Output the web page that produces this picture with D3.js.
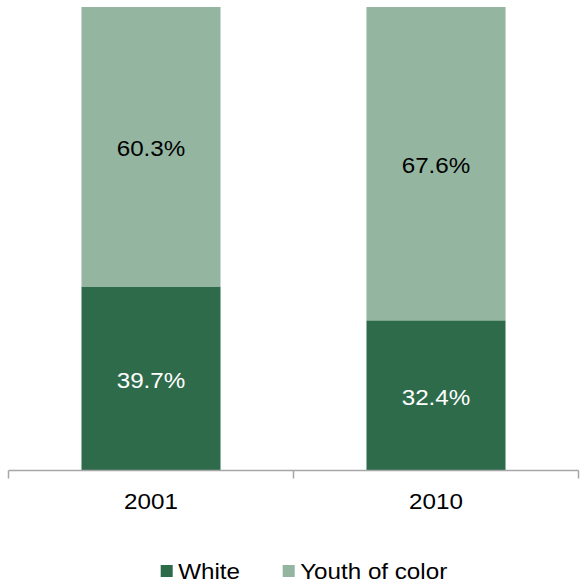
<!DOCTYPE html>
<html>
<head>
<meta charset="utf-8">
<script src="https://cdn.jsdelivr.net/npm/d3@7"></script>
<style>
html,body{margin:0;padding:0;background:#fff;}
svg{display:block;}
text{font-family:"Liberation Sans",Arial,sans-serif;}
</style>
</head>
<body>
<svg id="chart" width="580" height="584"></svg>
<script>
const categories = ["2001", "2010"];
const seriesNames = ["White", "Youth of color"];
const whiteValues = [39.7, 32.4];
const youthValues = [60.3, 67.6];
const seriesColors = ["#2E6B4B", "#94B6A1"];
const labelColors = ["#FFFFFF", "#000000"];

const svg = d3.select("#chart");
const axisY = 470.5, topY = 7;
const SX = 1.1; // horizontal text stretch seen in the reference

function place(sel, fx, fy) {
  return sel.attr("transform", (d, i) => `translate(${fx(d, i)},${fy(d, i)}) scale(${SX},1)`);
}

const x = d3.scaleBand().domain(categories).range([8.5, 578.5]);
const y = d3.scaleLinear().domain([0, 100]).range([axisY, topY]);
const barW = x.bandwidth() / 2.05;

const rows = categories.map((c, i) => ({cat: c, White: whiteValues[i], "Youth of color": youthValues[i]}));
const stacked = d3.stack().keys(seriesNames)(rows);

const g = svg.append("g");
stacked.forEach((layer, si) => {
  const lg = g.append("g");
  lg.selectAll("rect").data(layer).join("rect")
    .attr("x", d => x(d.data.cat) + x.bandwidth() / 2 - barW / 2)
    .attr("width", barW)
    .attr("y", d => y(d[1]))
    .attr("height", d => y(d[0]) - y(d[1]))
    .attr("fill", seriesColors[si]);
  const t = lg.selectAll("text").data(layer).join("text")
    .attr("text-anchor", "middle")
    .attr("font-size", 22)
    .attr("fill", labelColors[si])
    .text(d => (d[1] - d[0]).toFixed(1) + "%");
  place(t, d => x(d.data.cat) + x.bandwidth() / 2, d => (y(d[0]) + y(d[1])) / 2 + 9.5);
});

// axis
const axis = d3.axisBottom(x).tickSize(0).tickPadding(0);
const ag = svg.append("g").attr("transform", `translate(0,${axisY})`).call(axis);
ag.select(".domain").remove();
ag.selectAll(".tick text").remove();
ag.append("line").attr("x1", 8.5).attr("x2", 578.5).attr("y1", 0).attr("y2", 0)
  .attr("stroke", "#A6A6A6").attr("stroke-width", 1.5);
const bounds = [x.range()[0]].concat(categories.map(c => x(c) + x.bandwidth()));
ag.selectAll("line.tk").data(bounds).join("line").attr("class", "tk")
  .attr("x1", d => d).attr("x2", d => d).attr("y1", 0).attr("y2", 8)
  .attr("stroke", "#A6A6A6").attr("stroke-width", 1.5);
const ct = ag.selectAll("text.cat").data(categories).join("text").attr("class", "cat")
  .attr("text-anchor", "middle")
  .attr("font-size", 22)
  .attr("fill", "#000")
  .text(d => d);
place(ct, d => x(d) + x.bandwidth() / 2, () => 38);

// legend
const legendX = [160.7, 282.7];
const leg = svg.append("g");
seriesNames.forEach((n, i) => {
  leg.append("rect").attr("x", legendX[i]).attr("y", 565).attr("width", 12).attr("height", 12)
    .attr("fill", seriesColors[i]);
  const lt = leg.append("text").datum(n)
    .attr("font-size", 22).attr("fill", "#000").text(n);
  place(lt, () => legendX[i] + 17.5, () => 579);
});
</script>
</body>
</html>
